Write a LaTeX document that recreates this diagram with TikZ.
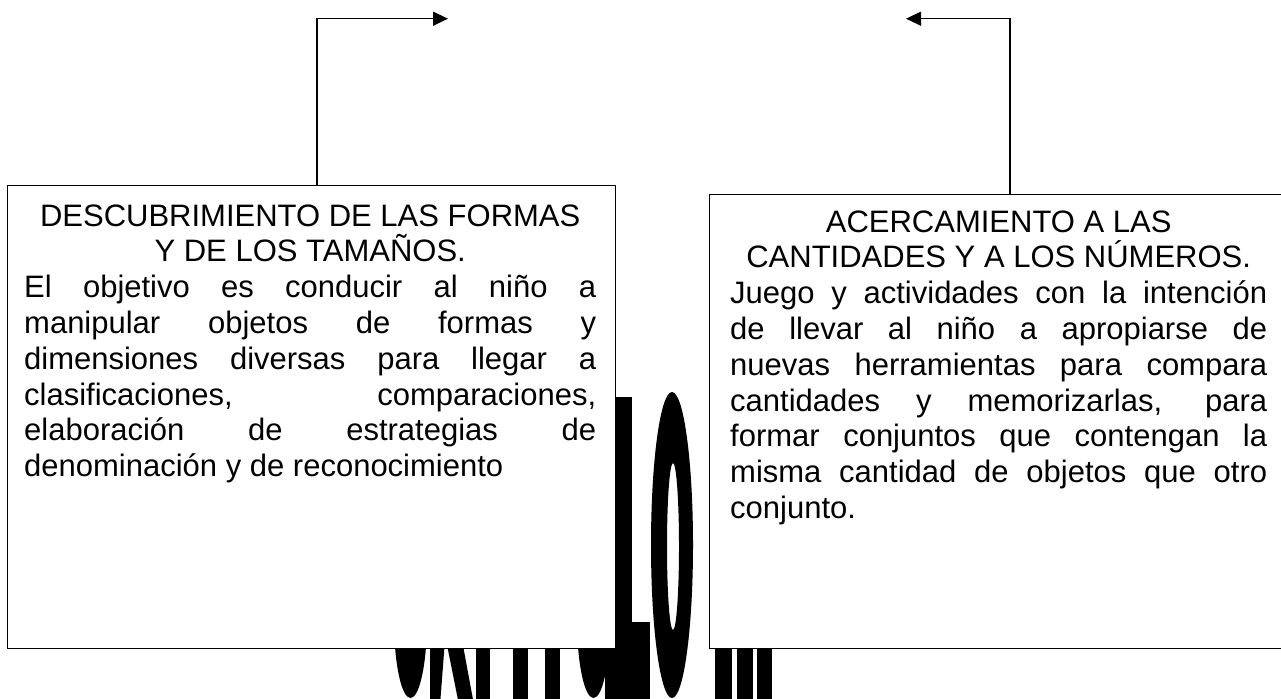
\documentclass[tikz,border=0pt]{standalone}
\usepackage{fontspec}
\setmainfont{Liberation Sans}
\usetikzlibrary{arrows.meta}
\begin{document}
\begin{tikzpicture}[x=1pt,y=-1pt,
  box/.style={draw=black, line width=1.3pt, fill=white, inner sep=0pt, anchor=north west},
  txt/.style={inner sep=0pt, anchor=base west, font=\fontsize{31}{35.8}\selectfont},
  conn/.style={line width=1.3pt, -{Triangle[length=15pt,width=14pt]}},
  ink/.style={fill=black}]
\useasboundingbox (0,0) rectangle (1281,698);
\clip (0,0) rectangle (1281,698);
% background title letters (CAPITULO III), mostly hidden by the boxes
\fill[ink] (410.5,620) ellipse [x radius=16.5pt, y radius=78pt];
\fill[ink] (430,640) -- (445,640) -- (440,705) -- (430,705) -- cycle;
\fill[ink] (446,640) -- (462,640) -- (474,705) -- (459,705) -- cycle;
\fill[ink] (476,640) rectangle (490,705);
\fill[ink] (513,640) rectangle (528,705);
\fill[ink] (545,640) rectangle (560,705);
\fill[ink] (593.5,620) ellipse [x radius=16.5pt, y radius=78pt];
\fill[ink] (605,397) rectangle (632,705);
\fill[ink] (605,622) rectangle (650,705);
\fill[ink, even odd rule] (672,545) ellipse [x radius=21pt, y radius=153pt]
                          (673,546.5) ellipse [x radius=6pt, y radius=83.5pt];
\fill[ink] (715,640) rectangle (731.5,705);
\fill[ink] (737,640) rectangle (753,705);
\fill[ink] (757,640) rectangle (771.5,705);
% boxes
\node[box, minimum width=608pt, minimum height=463pt] (lbox) at (7,185) {};
\node[box, minimum width=600pt, minimum height=454pt] (rbox) at (709,194) {};
% texts
\node[txt] (ltext) at (24,226) {\parbox[t]{572pt}{\tolerance=10000\hbadness=10000
{\centering DESCUBRIMIENTO DE LAS FORMAS\\ Y DE LOS TAMAÑOS.\par}
El objetivo es conducir al niño a\linebreak
manipular objetos de formas y\linebreak
dimensiones diversas para llegar a\linebreak
clasificaciones, comparaciones,\linebreak
elaboración de estrategias de\linebreak
denominación y de reconocimiento}};
\node[txt] (rtext) at (730,232) {\parbox[t]{537pt}{\tolerance=10000\hbadness=10000
{\centering ACERCAMIENTO A LAS\\ CANTIDADES Y A LOS NÚMEROS.\par}
Juego y actividades con la intención\linebreak
de llevar al niño a apropiarse de\linebreak
nuevas herramientas para compara\linebreak
cantidades y memorizarlas, para\linebreak
formar conjuntos que contengan la\linebreak
misma cantidad de objetos que otro\linebreak
conjunto.}};
% connectors
\coordinate (la) at (448,18.7);
\coordinate (ra) at (906,18.7);
\draw[conn] (lbox.north west) ++(310,0) |- (la);
\draw[conn] (rbox.north west) ++(301,0) |- (ra);
\end{tikzpicture}
\end{document}
